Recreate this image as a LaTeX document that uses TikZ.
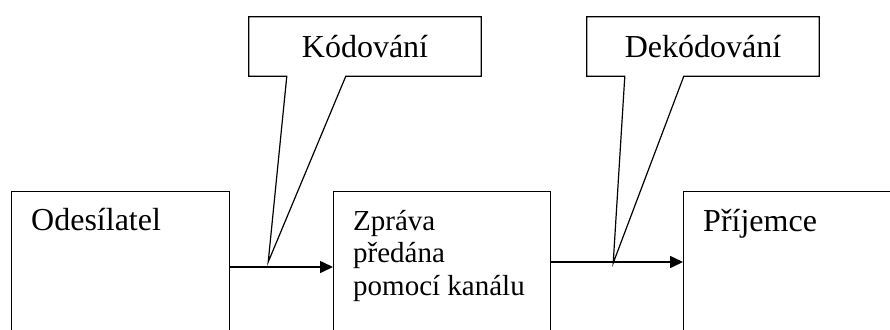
\documentclass[tikz,border=0pt]{standalone}
\usepackage{fontspec}
\setmainfont{Liberation Serif}
\usetikzlibrary{arrows.meta, positioning, calc}

\begin{document}
\begin{tikzpicture}[
    x=1pt, y=-1pt,
    font=\fontsize{32}{32.5}\selectfont,
    msgbox/.style={draw, line width=1.2pt, anchor=north west, inner sep=0pt, minimum height=240pt},
    boxtext/.style={anchor=base west, align=left, inner sep=0pt},
    calloutbox/.style={inner sep=0pt, minimum width=232pt, minimum height=59pt},
    callout/.style={line width=1.2pt},
    flow/.style={-{Triangle[length=13pt, width=12pt]}, line width=1.6pt}
]
\useasboundingbox (0,0) rectangle (890,329);
\clip (0,0) rectangle (890,329);

% === BOXES ===
\node[msgbox, minimum width=218pt] (snd) at (11, 191) {};
\node[msgbox, minimum width=217pt] (msg) at (333, 191) {};
\node[msgbox, minimum width=230pt] (rcv) at (683, 191) {};

\node[boxtext] (sndtxt) at ($(snd.north west)+(20,39)$) {Odesílatel};
% base anchor sits on the last line here
\node[boxtext, font=\fontsize{29}{32.5}\selectfont] (msgtxt) at ($(msg.north west)+(20,104)$) {Zpráva\\předána\\pomocí kanálu};
\node[boxtext] (rcvtxt) at ($(rcv.north west)+(20,40)$) {Příjemce};

% === ARROWS ===
\draw[flow] ($(snd.north east)+(0,76)$) -- ($(msg.north west)+(0,76)$);
\draw[flow] ($(msg.north east)+(0,71)$) -- ($(rcv.north west)+(0,71)$);

\coordinate (kodtip) at ($(snd.north east)+(38,71)$);
\coordinate (dektip) at ($(msg.north east)+(62,72)$);

% === CALLOUTS ===
\node[calloutbox] (kod) at (365, 46.5) {Kódování};
\node[calloutbox] (dek) at (703, 46.5) {Dekódování};

\foreach \c in {kod, dek} {
    \draw[callout] (\c.south west) -- (\c.north west) -- (\c.north east) -- (\c.south east)
        -- ($(\c.south west)+(97,0)$) -- (\c tip) -- ($(\c.south west)+(38,0)$) -- cycle;
}

\end{tikzpicture}
\end{document}
